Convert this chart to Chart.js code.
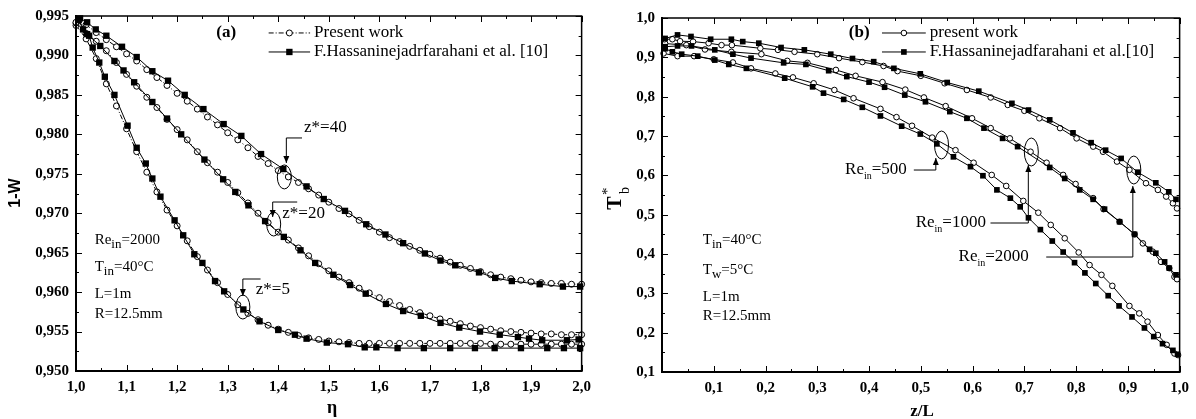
<!DOCTYPE html>
<html>
<head>
<meta charset="utf-8">
<script src="https://cdn.jsdelivr.net/npm/chart.js@4.4.0/dist/chart.umd.min.js"></script>
<style>
html, body { margin: 0; padding: 0; background: #fff; }
#wrap { display: flex; width: 1196px; height: 419px; }
canvas { display: block; }
</style>
</head>
<body>
<div id="wrap">
  <canvas id="chartA" width="598" height="419"></canvas>
  <canvas id="chartB" width="598" height="419"></canvas>
</div>
<script>
// ---- panel (a): 1-W against eta ----
const etaPresent = [1.00, 1.02, 1.04, 1.06, 1.08, 1.10, 1.12, 1.14, 1.16, 1.18, 1.20, 1.22, 1.24, 1.26, 1.28, 1.30, 1.32, 1.34, 1.36, 1.38,
  1.40, 1.42, 1.44, 1.46, 1.48, 1.50, 1.52, 1.54, 1.56, 1.58, 1.60, 1.62, 1.64, 1.66, 1.68, 1.70, 1.72, 1.74, 1.76, 1.78,
  1.80, 1.82, 1.84, 1.86, 1.88, 1.90, 1.92, 1.94, 1.96, 1.98, 2.00];
const w40Present = [0.9942, 0.9939, 0.9929, 0.9920, 0.9911, 0.9902, 0.9893, 0.9882, 0.9872, 0.9862, 0.9852, 0.9842, 0.9832, 0.9822, 0.9812, 0.9802, 0.9793, 0.9783, 0.9772, 0.9763,
  0.9754, 0.9746, 0.9739, 0.9731, 0.9723, 0.9714, 0.9706, 0.9699, 0.9691, 0.9683, 0.9676, 0.9669, 0.9664, 0.9658, 0.9653, 0.9648, 0.9643, 0.9638, 0.9634, 0.9630,
  0.9626, 0.9622, 0.9619, 0.9617, 0.9615, 0.9613, 0.9612, 0.9611, 0.9611, 0.9610, 0.9610];
const w20Present = [0.9941, 0.9928, 0.9918, 0.9906, 0.9891, 0.9876, 0.9861, 0.9847, 0.9834, 0.9819, 0.9806, 0.9793, 0.9778, 0.9764, 0.9752, 0.9739, 0.9726, 0.9713, 0.9700, 0.9688,
  0.9676, 0.9666, 0.9656, 0.9646, 0.9636, 0.9627, 0.9619, 0.9612, 0.9605, 0.9599, 0.9593, 0.9588, 0.9583, 0.9578, 0.9574, 0.9570, 0.9566, 0.9563, 0.9560, 0.9557,
  0.9555, 0.9553, 0.9551, 0.9550, 0.9549, 0.9548, 0.9547, 0.9547, 0.9546, 0.9546, 0.9546];
const w5Present = [0.9938, 0.9921, 0.9896, 0.9864, 0.9836, 0.9807, 0.9778, 0.9752, 0.9727, 0.9704, 0.9684, 0.9665, 0.9645, 0.9628, 0.9612, 0.9597, 0.9584, 0.9573, 0.9565, 0.9558,
  0.9553, 0.9549, 0.9545, 0.9542, 0.9540, 0.9538, 0.9537, 0.9536, 0.9535, 0.9535, 0.9535, 0.9535, 0.9535, 0.9535, 0.9535, 0.9535, 0.9535, 0.9535, 0.9535, 0.9535,
  0.9535, 0.9534, 0.9534, 0.9534, 0.9534, 0.9534, 0.9534, 0.9534, 0.9534, 0.9534, 0.9534];

const eta40Ref = [1.008, 1.022, 1.039, 1.060, 1.091, 1.120, 1.151, 1.182, 1.215, 1.252, 1.292, 1.327, 1.366, 1.410, 1.456, 1.490, 1.532, 1.574, 1.612, 1.647,
  1.690, 1.721, 1.750, 1.797, 1.829, 1.862, 1.917, 1.963, 1.997];
const w40Ref = [0.9947, 0.9942, 0.9933, 0.9925, 0.9911, 0.9898, 0.9880, 0.9868, 0.9850, 0.9832, 0.9813, 0.9798, 0.9775, 0.9756, 0.9734, 0.9718, 0.9703, 0.9686, 0.9673, 0.9662,
  0.9649, 0.9640, 0.9634, 0.9625, 0.9618, 0.9614, 0.9610, 0.9607, 0.9607];
const eta20Ref = [1.005, 1.022, 1.048, 1.076, 1.094, 1.115, 1.151, 1.180, 1.208, 1.254, 1.291, 1.315, 1.341, 1.374, 1.411, 1.444, 1.473, 1.509, 1.542, 1.573,
  1.613, 1.647, 1.682, 1.721, 1.758, 1.799, 1.838, 1.874, 1.896, 1.922, 1.971, 1.994];
const w20Ref = [0.9945, 0.9927, 0.9912, 0.9893, 0.9881, 0.9866, 0.9841, 0.9820, 0.9800, 0.9768, 0.9743, 0.9727, 0.9710, 0.9690, 0.9670, 0.9653, 0.9637, 0.9622, 0.9609, 0.9598,
  0.9585, 0.9576, 0.9570, 0.9561, 0.9555, 0.9550, 0.9546, 0.9543, 0.9541, 0.9539, 0.9539, 0.9540];
const eta5Ref = [1.005, 1.014, 1.026, 1.033, 1.046, 1.057, 1.076, 1.102, 1.120, 1.138, 1.151, 1.167, 1.195, 1.212, 1.234, 1.250, 1.275, 1.293, 1.331, 1.363,
  1.400, 1.433, 1.456, 1.496, 1.538, 1.571, 1.594, 1.636, 1.688, 1.740, 1.789, 1.828, 1.880, 1.932, 1.965, 1.997];
const w5Ref = [0.9945, 0.9933, 0.9925, 0.9910, 0.9891, 0.9873, 0.9850, 0.9811, 0.9783, 0.9763, 0.9744, 0.9721, 0.9691, 0.9672, 0.9648, 0.9637, 0.9614, 0.9601, 0.9578, 0.9563,
  0.9552, 0.9546, 0.9541, 0.9536, 0.9534, 0.9530, 0.9530, 0.9529, 0.9529, 0.9529, 0.9529, 0.9529, 0.9529, 0.9529, 0.9529, 0.9529];

// ---- panel (b): T*b against z/L ----
const zl2000Present = [0.005, 0.020, 0.035, 0.060, 0.090, 0.115, 0.135, 0.190, 0.224, 0.256, 0.300, 0.342, 0.387, 0.428, 0.455, 0.500, 0.546, 0.589, 0.635, 0.668,
  0.700, 0.729, 0.769, 0.801, 0.833, 0.852, 0.879, 0.903, 0.935, 0.958, 0.974, 0.987, 0.995];
const tb2000Present = [0.946, 0.946, 0.941, 0.940, 0.936, 0.931, 0.931, 0.923, 0.919, 0.914, 0.908, 0.898, 0.888, 0.878, 0.865, 0.853, 0.834, 0.817, 0.798, 0.779,
  0.764, 0.745, 0.720, 0.694, 0.673, 0.660, 0.635, 0.614, 0.580, 0.563, 0.546, 0.529, 0.516];
const zl2000Ref = [0.006, 0.030, 0.056, 0.094, 0.134, 0.156, 0.187, 0.230, 0.275, 0.326, 0.368, 0.409, 0.448, 0.499, 0.551, 0.612, 0.676, 0.708, 0.749, 0.794,
  0.829, 0.857, 0.887, 0.919, 0.954, 0.979, 0.993];
const tb2000Ref = [0.948, 0.957, 0.953, 0.946, 0.946, 0.940, 0.936, 0.925, 0.919, 0.908, 0.897, 0.889, 0.872, 0.858, 0.836, 0.814, 0.783, 0.766, 0.741, 0.708,
  0.683, 0.664, 0.643, 0.608, 0.581, 0.558, 0.539];

const zl1000Present = [0.006, 0.047, 0.083, 0.134, 0.192, 0.242, 0.281, 0.336, 0.374, 0.426, 0.470, 0.506, 0.548, 0.599, 0.635, 0.672, 0.712, 0.743, 0.775, 0.799,
  0.833, 0.853, 0.884, 0.913, 0.929, 0.948, 0.964, 0.980, 0.990, 0.995];
const tb1000Present = [0.935, 0.931, 0.920, 0.914, 0.908, 0.891, 0.886, 0.868, 0.853, 0.837, 0.818, 0.798, 0.776, 0.745, 0.720, 0.694, 0.660, 0.632, 0.601, 0.578,
  0.542, 0.514, 0.482, 0.450, 0.427, 0.406, 0.380, 0.364, 0.342, 0.336];
const zl1000Ref = [0.006, 0.030, 0.057, 0.102, 0.137, 0.172, 0.235, 0.278, 0.322, 0.357, 0.400, 0.430, 0.469, 0.509, 0.556, 0.589, 0.622, 0.658, 0.687, 0.749,
  0.778, 0.807, 0.833, 0.855, 0.884, 0.913, 0.942, 0.954, 0.971, 0.980, 0.993];
const tb1000Ref = [0.927, 0.929, 0.929, 0.919, 0.908, 0.898, 0.886, 0.882, 0.866, 0.851, 0.837, 0.824, 0.804, 0.787, 0.762, 0.745, 0.720, 0.694, 0.673, 0.620,
  0.592, 0.563, 0.539, 0.514, 0.482, 0.450, 0.412, 0.402, 0.380, 0.364, 0.347];

const zl500Present = [0.003, 0.030, 0.062, 0.100, 0.137, 0.172, 0.219, 0.253, 0.293, 0.333, 0.370, 0.422, 0.453, 0.483, 0.522, 0.567, 0.602, 0.637, 0.665, 0.698,
  0.727, 0.751, 0.778, 0.805, 0.826, 0.849, 0.870, 0.903, 0.922, 0.938, 0.958, 0.975, 0.990, 0.997];
const tb500Present = [0.910, 0.903, 0.903, 0.895, 0.887, 0.872, 0.859, 0.849, 0.834, 0.817, 0.796, 0.769, 0.748, 0.726, 0.696, 0.664, 0.632, 0.601, 0.573, 0.535,
  0.505, 0.474, 0.440, 0.404, 0.372, 0.347, 0.319, 0.268, 0.249, 0.228, 0.194, 0.169, 0.147, 0.143];
const zl500Ref = [0.006, 0.020, 0.038, 0.069, 0.102, 0.129, 0.163, 0.237, 0.291, 0.312, 0.351, 0.387, 0.422, 0.463, 0.499, 0.531, 0.563, 0.596, 0.620, 0.647,
  0.673, 0.692, 0.708, 0.731, 0.754, 0.775, 0.797, 0.817, 0.838, 0.862, 0.883, 0.908, 0.932, 0.950, 0.967, 0.987, 0.996];
const tb500Ref = [0.922, 0.914, 0.908, 0.903, 0.893, 0.882, 0.872, 0.847, 0.825, 0.809, 0.793, 0.773, 0.751, 0.725, 0.705, 0.680, 0.647, 0.622, 0.599, 0.563,
  0.542, 0.520, 0.492, 0.462, 0.433, 0.405, 0.378, 0.352, 0.325, 0.294, 0.268, 0.240, 0.212, 0.190, 0.172, 0.155, 0.145];

// ---------------------------------------------------------------
const SERIF = '"Liberation Serif", "Times New Roman", serif';
const SANS = '"Liberation Sans", Arial, sans-serif';
const tickFont = { family: SERIF, weight: 'bold', size: 15 };
const comma = d => v => v.toFixed(d).replace('.', ',');
const xy = (xs, ys) => xs.map((x, i) => ({ x: x, y: ys[i] }));

function presentSet(xs, ys, dash, r) {
  return {
    data: xy(xs, ys), showLine: true, clip: false,
    borderColor: '#000', borderWidth: 1, borderDash: dash,
    pointStyle: 'circle', pointRadius: r, pointBackgroundColor: '#fff',
    pointBorderColor: '#000', pointBorderWidth: 1
  };
}
function refSet(xs, ys, r) {
  return {
    data: xy(xs, ys), showLine: true, clip: false,
    borderColor: '#000', borderWidth: 1,
    pointStyle: 'rect', pointRadius: r, pointBackgroundColor: '#000',
    pointBorderColor: '#000', pointBorderWidth: 0
  };
}

// frame with inward ticks on all four sides
const framePlugin = {
  id: 'frame',
  afterDatasetsDraw(chart, args, opts) {
    const { ctx, chartArea: a, scales: { x, y } } = chart;
    ctx.save();
    ctx.strokeStyle = '#000';
    ctx.lineWidth = 1;
    const majX = x.ticks.map(t => t.value), majY = y.ticks.map(t => t.value);
    const isMaj = (arr, v, s) => arr.some(m => Math.abs(m - v) < s / 10);
    ctx.beginPath();
    for (let v = x.min; v <= x.max + 1e-9; v += opts.xMinor) {
      const p = Math.round(x.getPixelForValue(v)) + 0.5;
      const len = isMaj(majX, v, opts.xMinor) ? 6 : 3;
      ctx.moveTo(p, a.bottom); ctx.lineTo(p, a.bottom - len);
      ctx.moveTo(p, a.top); ctx.lineTo(p, a.top + len);
    }
    for (let v = y.min; v <= y.max + 1e-9; v += opts.yMinor) {
      const p = Math.round(y.getPixelForValue(v)) + 0.5;
      const len = isMaj(majY, v, opts.yMinor) ? 6 : 3;
      ctx.moveTo(a.left, p); ctx.lineTo(a.left + len, p);
      ctx.moveTo(a.right, p); ctx.lineTo(a.right - len, p);
    }
    ctx.stroke();
    ctx.lineWidth = 1.5;
    ctx.beginPath();
    ctx.moveTo(a.left, a.top); ctx.lineTo(a.right, a.top); ctx.lineTo(a.right, a.bottom);
    ctx.stroke();
    ctx.lineWidth = 2;
    ctx.beginPath();
    ctx.moveTo(a.left, a.top - 1); ctx.lineTo(a.left, a.bottom); ctx.lineTo(a.right + 1, a.bottom);
    ctx.stroke();
    ctx.restore();
  }
};

function rich(ctx, x, y, parts, align) {
  let w = 0;
  parts.forEach(p => { ctx.font = (p[3] || '') + ' ' + p[1] + 'px ' + SERIF; w += ctx.measureText(p[0]).width; });
  let cx = align === 'right' ? x - w : align === 'center' ? x - w / 2 : x;
  ctx.textAlign = 'left';
  ctx.textBaseline = 'middle';
  parts.forEach(p => {
    ctx.font = (p[3] || '') + ' ' + p[1] + 'px ' + SERIF;
    ctx.fillText(p[0], cx, y + (p[2] || 0));
    cx += ctx.measureText(p[0]).width;
  });
}

function arrowLine(ctx, pts) {
  ctx.beginPath();
  ctx.moveTo(pts[0][0], pts[0][1]);
  for (let i = 1; i < pts.length; i++) ctx.lineTo(pts[i][0], pts[i][1]);
  ctx.stroke();
  const [x1, y1] = pts[pts.length - 2], [x2, y2] = pts[pts.length - 1];
  const ang = Math.atan2(y2 - y1, x2 - x1), L = 7, H = 3;
  ctx.beginPath();
  ctx.moveTo(x2, y2);
  ctx.lineTo(x2 - L * Math.cos(ang) + H * Math.sin(ang), y2 - L * Math.sin(ang) - H * Math.cos(ang));
  ctx.lineTo(x2 - L * Math.cos(ang) - H * Math.sin(ang), y2 - L * Math.sin(ang) + H * Math.cos(ang));
  ctx.closePath();
  ctx.fill();
}

function marker(ctx, kind, x, y, r) {
  ctx.beginPath();
  if (kind === 'circle') {
    ctx.arc(x, y, r, 0, Math.PI * 2);
    ctx.fillStyle = '#fff'; ctx.fill();
    ctx.setLineDash([]); ctx.lineWidth = 1; ctx.stroke();
  } else {
    const s = r * Math.SQRT1_2;
    ctx.fillStyle = '#000';
    ctx.fillRect(x - s, y - s, 2 * s, 2 * s);
  }
  ctx.fillStyle = '#000';
}

// annotations, legend and axis titles
const notesPlugin = {
  id: 'notes',
  afterDatasetsDraw(chart, args, n) {
    const { ctx, scales: { x, y } } = chart;
    const P = (a, b) => [x.getPixelForValue(a), y.getPixelForValue(b)];
    ctx.save();
    ctx.fillStyle = '#000';
    ctx.strokeStyle = '#000';
    ctx.lineWidth = 1;

    let p = P(n.tag.x, n.tag.y);
    rich(ctx, p[0], p[1], [[n.tag.text, 17, 0, 'bold']], 'center');

    n.legend.forEach(row => {
      const a = P(row.x1, row.y), b = P(row.x2, row.y);
      ctx.setLineDash(row.dash || []);
      ctx.beginPath(); ctx.moveTo(a[0], a[1]); ctx.lineTo(b[0], b[1]); ctx.stroke();
      ctx.setLineDash([]);
      marker(ctx, row.marker, (a[0] + b[0]) / 2, a[1], row.r);
      rich(ctx, b[0] + 4, a[1], [[row.text, 17]], 'left');
    });

    n.side.forEach(s => {
      const q = P(s.x, s.y);
      rich(ctx, q[0], q[1], s.parts, 'left');
    });

    n.callouts.forEach(c => {
      const t = P(c.tx, c.ty);
      rich(ctx, t[0], t[1], c.parts, c.align);
      arrowLine(ctx, c.path.map(v => P(v[0], v[1])));
      const e = P(c.ell[0], c.ell[1]);
      ctx.beginPath(); ctx.ellipse(e[0], e[1], c.rx, c.ry, 0, 0, Math.PI * 2); ctx.stroke();
    });

    n.titles.forEach(t => {
      ctx.save();
      ctx.translate(t.x, t.y);
      if (t.rot) ctx.rotate(-Math.PI / 2);
      t.parts.forEach(q => {
        ctx.font = q.font;
        ctx.textAlign = q.align || 'center';
        ctx.textBaseline = 'middle';
        ctx.fillText(q.text, q.dx || 0, q.dy || 0);
      });
      ctx.restore();
    });
    ctx.restore();
  }
};

function options(sx, sy, pad, xh, yw, frame, notes) {
  return {
    responsive: false, animation: false, events: [],
    layout: { padding: pad },
    plugins: { legend: { display: false }, tooltip: { enabled: false }, frame: frame, notes: notes },
    scales: {
      x: {
        type: 'linear', min: sx.min, max: sx.max,
        afterFit: s => { s.height = xh; },
        grid: { display: false, drawTicks: false }, border: { display: false },
        ticks: { stepSize: sx.step, autoSkip: false, maxRotation: 0, padding: 7, color: '#000', font: tickFont, callback: sx.cb }
      },
      y: {
        type: 'linear', min: sy.min, max: sy.max,
        afterFit: s => { s.width = yw; },
        grid: { display: false, drawTicks: false }, border: { display: false },
        ticks: { stepSize: sy.step, autoSkip: false, padding: 7, color: '#000', font: tickFont, callback: sy.cb }
      }
    }
  };
}

const dashDot = [5, 2, 1, 2];

new Chart(document.getElementById('chartA'), {
  type: 'scatter',
  data: {
    datasets: [
      refSet(eta40Ref, w40Ref, 4.5),
      refSet(eta20Ref, w20Ref, 4.5),
      refSet(eta5Ref, w5Ref, 4.5),
      presentSet(etaPresent, w40Present, dashDot, 3),
      presentSet(etaPresent, w20Present, dashDot, 3),
      presentSet(etaPresent, w5Present, dashDot, 3)
    ]
  },
  options: options(
    { min: 1, max: 2, step: 0.1, cb: comma(1) },
    { min: 0.95, max: 0.995, step: 0.005, cb: comma(3) },
    { top: 16, right: 10, left: 0, bottom: 0 }, 48, 76,
    { xMinor: 0.05, yMinor: 0.0025 },
    {
      tag: { text: '(a)', x: 1.297, y: 0.99285 },
      legend: [
        { x1: 1.381, x2: 1.463, y: 0.99285, dash: dashDot, marker: 'circle', r: 3, text: 'Present work' },
        { x1: 1.381, x2: 1.463, y: 0.99044, marker: 'rect', r: 4.5, text: 'F.Hassaninejadrfarahani et al. [10]' }
      ],
      side: [
        { x: 1.037, y: 0.96661, parts: [['Re', 15], ['in', 13, 5], ['=2000', 15]] },
        { x: 1.037, y: 0.96318, parts: [['T', 15], ['in', 13, 5], ['=40°C', 15]] },
        { x: 1.037, y: 0.95976, parts: [['L=1m', 15]] },
        { x: 1.037, y: 0.95722, parts: [['R=12.5mm', 15]] }
      ],
      callouts: [
        { parts: [['z*=40', 17]], align: 'left', tx: 1.451, ty: 0.9808,
          path: [[1.447, 0.97954], [1.416, 0.97954], [1.416, 0.97637]], ell: [1.412, 0.9746], rx: 7, ry: 12 },
        { parts: [['z*=20', 17]], align: 'left', tx: 1.408, ty: 0.9699,
          path: [[1.4375, 0.97142], [1.389, 0.97142], [1.389, 0.96952]], ell: [1.391, 0.96863], rx: 7, ry: 12 },
        { parts: [['z*=5', 17]], align: 'left', tx: 1.3555, ty: 0.96027,
          path: [[1.365, 0.96166], [1.330, 0.96166], [1.330, 0.95951]], ell: [1.330, 0.95811], rx: 7, ry: 12 }
      ],
      titles: [
        { x: 16, y: 193, rot: true, parts: [{ text: '1-W', font: 'bold 16px ' + SANS }] },
        { x: 332, y: 408, parts: [{ text: 'η', font: 'bold 18px ' + SERIF }] }
      ]
    }
  ),
  plugins: [framePlugin, notesPlugin]
});

new Chart(document.getElementById('chartB'), {
  type: 'scatter',
  data: {
    datasets: [
      refSet(zl2000Ref, tb2000Ref, 4),
      refSet(zl1000Ref, tb1000Ref, 4),
      refSet(zl500Ref, tb500Ref, 4),
      presentSet(zl2000Present, tb2000Present, [], 2.8),
      presentSet(zl1000Present, tb1000Present, [], 2.8),
      presentSet(zl500Present, tb500Present, [], 2.8)
    ]
  },
  options: options(
    { min: 0, max: 1, step: 0.1, cb: v => Math.abs(v) < 1e-9 ? '' : comma(1)(v) },
    { min: 0.1, max: 1.0, step: 0.1, cb: comma(1) },
    { top: 18, right: 14, left: 0, bottom: 0 }, 47, 64,
    { xMinor: 0.05, yMinor: 0.05 },
    {
      tag: { text: '(b)', x: 0.381, y: 0.9619 },
      legend: [
        { x1: 0.425, x2: 0.5096, y: 0.9619, marker: 'circle', r: 2.8, text: 'present work' },
        { x1: 0.425, x2: 0.5096, y: 0.9136, marker: 'rect', r: 4, text: 'F.Hassaninejadfarahani et al.[10]' }
      ],
      side: [
        { x: 0.0788, y: 0.4355, parts: [['T', 15], ['in', 13, 5], ['=40°C', 15]] },
        { x: 0.0788, y: 0.3593, parts: [['T', 15], ['w', 13, 5], ['=5°C', 15]] },
        { x: 0.0788, y: 0.2906, parts: [['L=1m', 15]] },
        { x: 0.0788, y: 0.2423, parts: [['R=12.5mm', 15]] }
      ],
      callouts: [
        { parts: [['Re', 17], ['in', 10, 6], ['=500', 17]], align: 'right', tx: 0.473, ty: 0.6135,
          path: [[0.4865, 0.6135], [0.529, 0.6135], [0.529, 0.6441]], ell: [0.540, 0.6771], rx: 7, ry: 14 },
        { parts: [['Re', 17], ['in', 10, 6], ['=1000', 17]], align: 'left', tx: 0.490, ty: 0.4788,
          path: [[0.6346, 0.4788], [0.7077, 0.4788], [0.7077, 0.6262]], ell: [0.7135, 0.6593], rx: 7, ry: 14 },
        { parts: [['Re', 17], ['in', 10, 6], ['=2000', 17]], align: 'left', tx: 0.573, ty: 0.3923,
          path: [[0.7423, 0.3923], [0.9096, 0.3923], [0.9096, 0.5728]], ell: [0.9115, 0.6135], rx: 7, ry: 14 }
      ],
      titles: [
        { x: 18, y: 203, rot: true, parts: [
          { text: 'T', font: 'bold 20px ' + SERIF },
          { text: '*', font: '15px ' + SERIF, dx: 8, dy: -8, align: 'left' },
          { text: 'b', font: '14px ' + SERIF, dx: 9, dy: 9, align: 'left' }
        ] },
        { x: 324, y: 412, parts: [{ text: 'z/L', font: 'bold 17px ' + SERIF }] }
      ]
    }
  ),
  plugins: [framePlugin, notesPlugin]
});
</script>
</body>
</html>
